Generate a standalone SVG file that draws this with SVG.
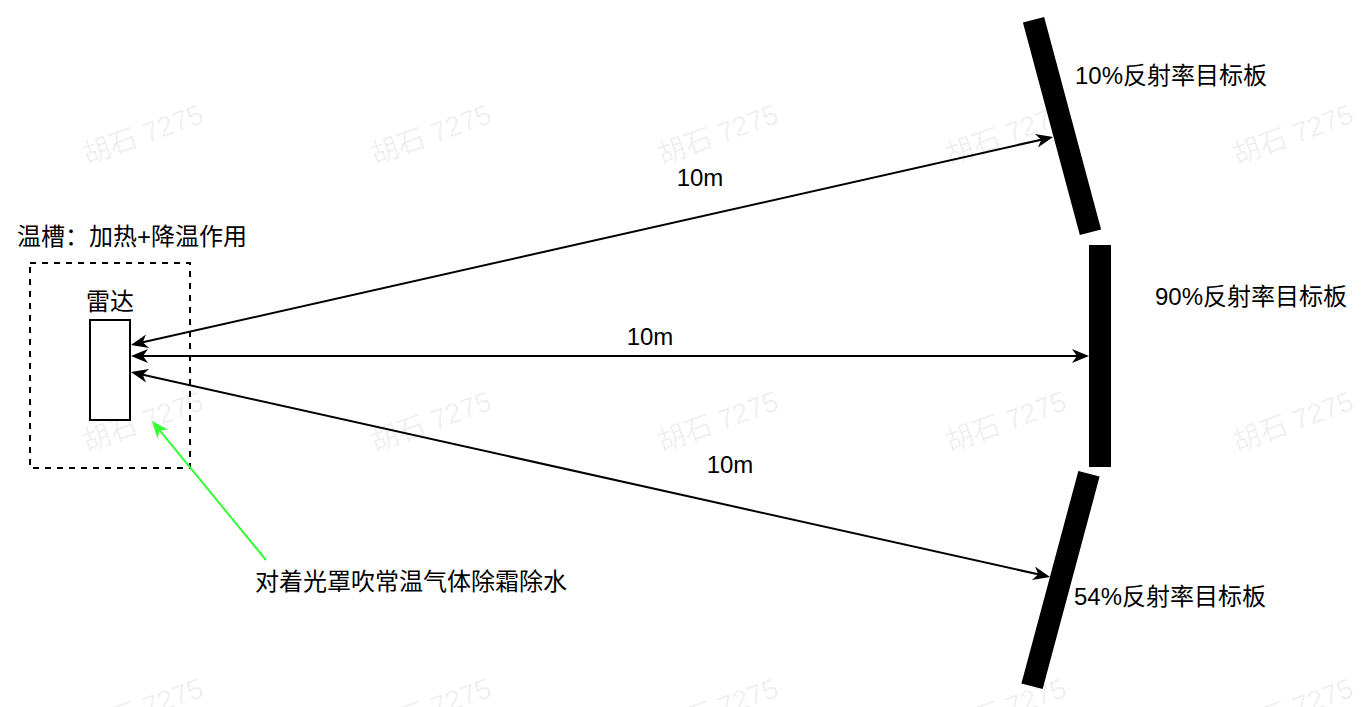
<svg xmlns="http://www.w3.org/2000/svg" width="1362" height="707" viewBox="0 0 1362 707">
<style>
.t{font-family:"Liberation Sans","Noto Sans CJK SC",sans-serif;font-size:24px;fill:#000}
.wm{font-family:"Liberation Sans","Noto Sans CJK SC",sans-serif;font-size:28px;fill:#000;fill-opacity:0.07}
.ln{stroke:#000;stroke-width:2;fill:none}
.bar{fill:#000}
</style>
<defs>
<marker id="ah" markerUnits="userSpaceOnUse" markerWidth="20" markerHeight="16" refX="14" refY="7" orient="auto-start-reverse" overflow="visible">
<path d="M17,7 L0,0 L5,7 L0,14 Z" fill="#000"/>
</marker>
<marker id="ahg" markerUnits="userSpaceOnUse" markerWidth="20" markerHeight="16" refX="14" refY="7" orient="auto" overflow="visible">
<path d="M17,7 L0,0 L5,7 L0,14 Z" fill="#33FF33"/>
</marker>
</defs>
<rect width="1362" height="707" fill="#fff"/>
<g id="watermarks">
<text class="wm" transform="translate(87,165) rotate(-20)">胡石 7275</text>
<text class="wm" transform="translate(375,165) rotate(-20)">胡石 7275</text>
<text class="wm" transform="translate(662,165) rotate(-20)">胡石 7275</text>
<text class="wm" transform="translate(950,165) rotate(-20)">胡石 7275</text>
<text class="wm" transform="translate(1237,165) rotate(-20)">胡石 7275</text>
<text class="wm" transform="translate(87,452) rotate(-20)">胡石 7275</text>
<text class="wm" transform="translate(375,452) rotate(-20)">胡石 7275</text>
<text class="wm" transform="translate(662,452) rotate(-20)">胡石 7275</text>
<text class="wm" transform="translate(950,452) rotate(-20)">胡石 7275</text>
<text class="wm" transform="translate(1237,452) rotate(-20)">胡石 7275</text>
<text class="wm" transform="translate(87,739) rotate(-20)">胡石 7275</text>
<text class="wm" transform="translate(375,739) rotate(-20)">胡石 7275</text>
<text class="wm" transform="translate(662,739) rotate(-20)">胡石 7275</text>
<text class="wm" transform="translate(950,739) rotate(-20)">胡石 7275</text>
<text class="wm" transform="translate(1237,739) rotate(-20)">胡石 7275</text>
</g>
<g id="chamber">
<rect x="30" y="263" width="160" height="205" fill="none" stroke="#000" stroke-width="2" stroke-dasharray="6 6"/>
<text class="t" x="17" y="245">温槽：加热+降温作用</text>
</g>
<g id="radar">
<rect x="90" y="320" width="40" height="100" fill="#fff" stroke="#000" stroke-width="2"/>
<text class="t" x="110" y="310" text-anchor="middle">雷达</text>
</g>
<g id="target10">
<rect class="bar" x="1051" y="16" width="22" height="220" transform="rotate(-15 1062 126)"/>
<text class="t" x="1075" y="84">10%反射率目标板</text>
</g>
<g id="target90">
<rect class="bar" x="1089" y="245" width="22" height="222"/>
<text class="t" x="1155" y="305">90%反射率目标板</text>
</g>
<g id="target54">
<rect class="bar" x="1049.5" y="470" width="22" height="220" transform="rotate(15 1060.5 580)"/>
<text class="t" x="1074" y="605">54%反射率目标板</text>
</g>
<g id="connectors">
<line class="ln" x1="133.9" y1="344.3" x2="1050.1" y2="137.7" marker-start="url(#ah)" marker-end="url(#ah)"/>
<line class="ln" x1="134" y1="356" x2="1086" y2="356" marker-start="url(#ah)" marker-end="url(#ah)"/>
<line class="ln" x1="133.9" y1="372.7" x2="1047.1" y2="576.3" marker-start="url(#ah)" marker-end="url(#ah)"/>
<line x1="266" y1="560" x2="153.9" y2="423.3" stroke="#33FF33" stroke-width="2" marker-end="url(#ahg)"/>
<text class="t" x="700" y="186" text-anchor="middle">10m</text>
<text class="t" x="650" y="345" text-anchor="middle">10m</text>
<text class="t" x="730" y="473" text-anchor="middle">10m</text>
</g>
<g id="note">
<text class="t" x="255" y="590">对着光罩吹常温气体除霜除水</text>
</g>
</svg>
